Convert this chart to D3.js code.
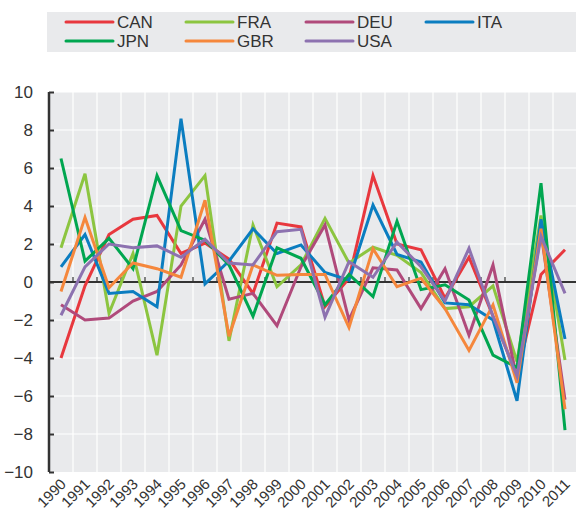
<!DOCTYPE html>
<html>
<head>
<meta charset="utf-8">
<script src="https://cdn.jsdelivr.net/npm/d3@7"></script>
<style>
  body { margin: 0; background: #fff; }
  text { font-family: "Liberation Sans Narrow", "Arial Narrow", "Liberation Sans", sans-serif; fill: #333; }
</style>
</head>
<body>
<div id="chart"></div>
<script>
// years on the x axis
const years = ["1990","1991","1992","1993","1994","1995","1996","1997","1998","1999","2000",
               "2001","2002","2003","2004","2005","2006","2007","2008","2009","2010","2011"];

// values, one array per country
const CAN = [-4.0, -0.2, 2.5, 3.3, 3.5, 1.5, 2.05, 1.2, -0.6, 3.1, 2.9, -1.3, 0.2, 5.6, 2.0, 1.7, -0.85, 1.3, -1.8, -4.9, 0.4, 1.7];
const FRA = [1.8, 5.7, -1.65, 1.5, -3.85, 4.0, 5.6, -3.1, 3.0, -0.25, 0.9, 3.35, 1.0, 1.83, 1.4, 0.5, -1.4, -1.3, -0.2, -4.2, 3.5, -4.1];
const DEU = [-1.2, -2.0, -1.9, -1.0, -0.5, 0.9, 3.3, -0.9, -0.6, -2.3, 0.8, 3.0, -2.0, 0.75, 0.63, -1.4, 0.7, -2.8, 0.9, -5.1, 2.6, -6.2];
const ITA = [0.8, 2.5, -0.6, -0.5, -1.3, 8.6, -0.1, 1.1, 2.8, 1.5, 1.95, 0.5, 0.1, 4.05, 1.45, 1.05, -1.1, -1.2, -2.0, -6.25, 3.3, -3.0];
const JPN = [6.5, 1.1, 2.3, 0.7, 5.6, 2.7, 2.2, 0.9, -1.8, 1.8, 1.25, -1.2, 0.4, -0.77, 3.2, -0.4, -0.15, -0.95, -3.85, -4.5, 5.2, -7.8];
const GBR = [-0.5, 3.4, -0.3, 1.0, 0.7, 0.25, 4.3, -2.85, 0.9, 0.35, 0.4, 0.4, -2.4, 1.75, -0.25, 0.2, -1.4, -3.6, -1.2, -5.3, 2.8, -6.7];
const USA = [-1.75, 0.8, 2.0, 1.8, 1.9, 1.3, 2.25, 1.0, 0.9, 2.65, 2.77, -1.85, 1.07, 0.25, 2.1, 0.8, -1.0, 1.77, -1.8, -4.95, 2.4, -0.6];

const yTicks = [-10, -8, -6, -4, -2, 0, 2, 4, 6, 8, 10];

const series = [
  {name: "CAN", color: "#e8383e", values: CAN},
  {name: "FRA", color: "#8cc540", values: FRA},
  {name: "DEU", color: "#b04a7b", values: DEU},
  {name: "ITA", color: "#0b7dc0", values: ITA},
  {name: "JPN", color: "#00a650", values: JPN},
  {name: "GBR", color: "#f5873c", values: GBR},
  {name: "USA", color: "#8d72b0", values: USA}
];

const width = 576, height = 511;
const margin = {top: 92, right: -1, bottom: 39, left: 49};

const svg = d3.select("#chart").append("svg")
    .attr("width", width)
    .attr("height", height);

// legend box
const legend = svg.append("g");
legend.append("rect")
    .attr("x", 47).attr("y", 12)
    .attr("width", width - 47).attr("height", 40)
    .attr("fill", "#e9eaec");

series.forEach(function(s, i) {
  let col = i < 4 ? i : i - 4;
  let row = i < 4 ? 0 : 1;
  let lx = 66 + col * 120, ly = 22 + row * 19;
  legend.append("line")
      .attr("x1", lx).attr("x2", lx + 47)
      .attr("y1", ly).attr("y2", ly)
      .attr("stroke", s.color)
      .attr("stroke-width", 3)
      .attr("stroke-linecap", "round");
  legend.append("text")
      .attr("x", lx + 51).attr("y", ly + 6)
      .attr("font-size", 17)
      .text(s.name);
});

// scales
const x = d3.scaleBand()
    .domain(years)
    .range([margin.left, width - margin.right]);
const y = d3.scaleLinear()
    .domain([-10, 10])
    .range([height - margin.bottom, margin.top]);

const cx = d => x(d) + x.bandwidth() / 2;

// plot background
svg.append("rect")
    .attr("x", margin.left + 1)
    .attr("y", y(10))
    .attr("width", width - margin.right - margin.left - 1)
    .attr("height", y(-10) - y(10))
    .attr("fill", "#e9eaec");

// grid lines
svg.append("g").selectAll("line.h")
    .data(yTicks.filter(d => d !== 0 && d !== -10))
  .enter().append("line")
    .attr("x1", margin.left).attr("x2", width)
    .attr("y1", d => y(d)).attr("y2", d => y(d))
    .attr("stroke", "#fff").attr("stroke-width", 1.2);

svg.append("g").selectAll("line.v")
    .data(years.slice(1))
  .enter().append("line")
    .attr("x1", d => x(d)).attr("x2", d => x(d))
    .attr("y1", y(10)).attr("y2", y(-10))
    .attr("stroke", "#fff").attr("stroke-width", 1.2);

// zero line with small ticks at category boundaries
const zero = svg.append("g");
zero.append("line")
    .attr("x1", margin.left).attr("x2", width)
    .attr("y1", y(0)).attr("y2", y(0))
    .attr("stroke", "#333").attr("stroke-width", 2);
zero.selectAll("line.t")
    .data(years.slice(1))
  .enter().append("line")
    .attr("x1", d => x(d)).attr("x2", d => x(d))
    .attr("y1", y(0)).attr("y2", y(0) - 5)
    .attr("stroke", "#333").attr("stroke-width", 1.2);

// lines
const line = d3.line()
    .x((d, i) => cx(years[i]))
    .y(d => y(d));

svg.append("g").selectAll("path")
    .data(series)
  .enter().append("path")
    .attr("d", d => line(d.values))
    .attr("fill", "none")
    .attr("stroke", d => d.color)
    .attr("stroke-width", 3)
    .attr("stroke-linejoin", "miter");

// y axis
const yAxis = svg.append("g")
    .attr("transform", "translate(" + margin.left + ",0)")
    .call(d3.axisLeft(y).tickValues(yTicks).tickSize(-5).tickPadding(16).tickFormat(d3.format("d")));
yAxis.select(".domain").attr("stroke", "#333").attr("stroke-width", 2.5)
    .attr("d", "M0," + y(10) + "V" + y(-10));
yAxis.selectAll(".tick line").attr("stroke", "#333").attr("stroke-width", 2);
yAxis.selectAll(".tick text")
    .attr("font-size", 17)
    .attr("fill", "#333")
    .style("font-family", "\"Liberation Sans Narrow\", \"Arial Narrow\", sans-serif");

// x labels
svg.append("g").selectAll("text")
    .data(years)
  .enter().append("text")
    .attr("text-anchor", "end")
    .attr("font-size", 15)
    .attr("transform", d => "translate(" + (cx(d) + 6) + "," + (y(-10) + 13) + ") rotate(-45)")
    .text(d => d);
</script>
</body>
</html>
